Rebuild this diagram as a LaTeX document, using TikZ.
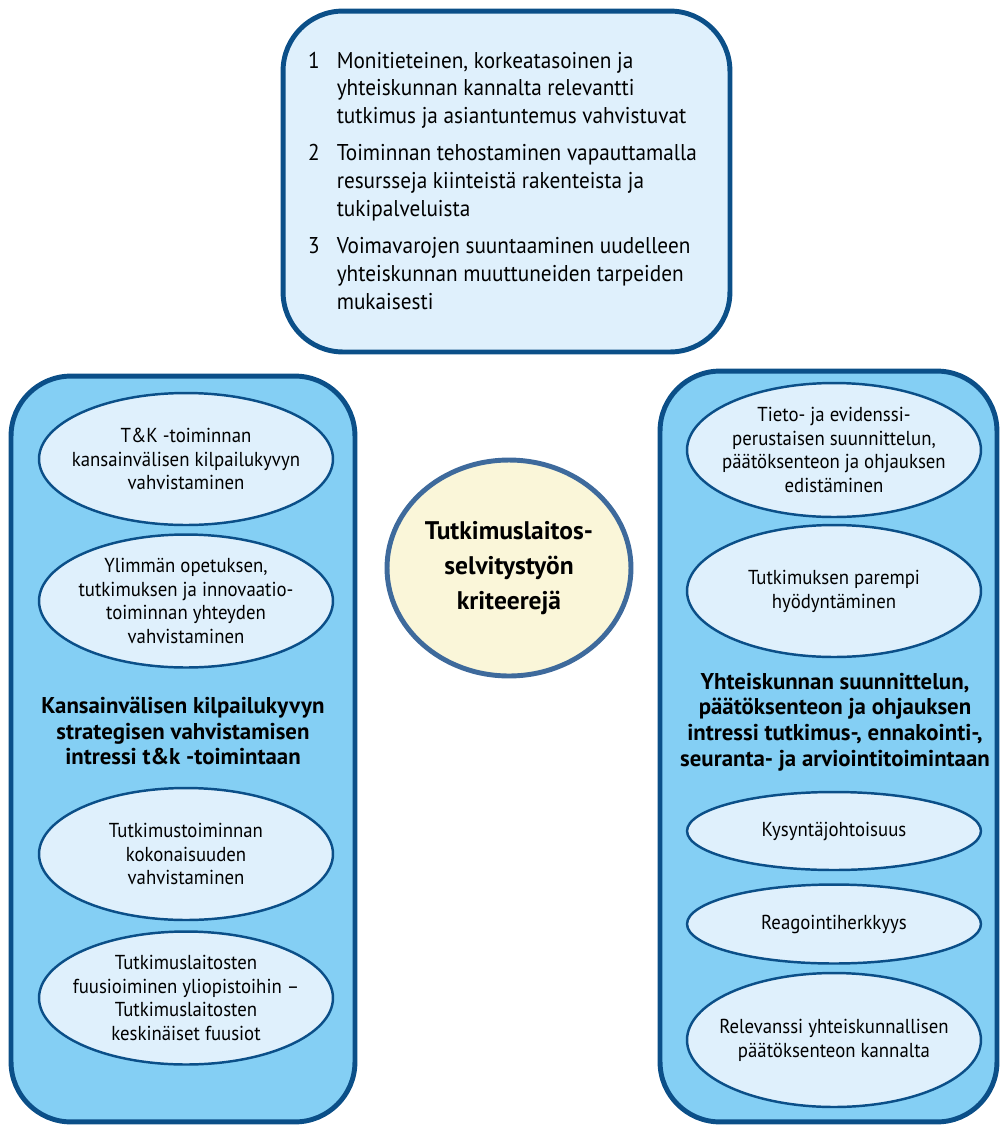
\documentclass[tikz,border=0pt]{standalone}
\usepackage{fontspec}
\setmainfont{PT Sans}
\newfontfamily\kapea[FakeStretch=0.93]{PT Sans}
\usetikzlibrary{shapes.geometric}
\definecolor{reuna}{HTML}{0B4F88}
\definecolor{vaalea}{HTML}{DFF0FC}
\definecolor{taivas}{HTML}{84CFF4}
\definecolor{kerma}{HTML}{FAF6D9}
\definecolor{keskireuna}{HTML}{3E6A9C}
\tikzset{
  laatikko/.style={rectangle, draw=reuna, line width=2.8pt, rounded corners=1.2cm},
  soikio/.style={ellipse, draw=reuna, line width=1.4pt, fill=vaalea,
    inner xsep=-2cm, inner ysep=-1.2cm,
    minimum width=5.88cm, align=center, font=\kapea\fontsize{11.5}{13.6}\selectfont},
  otsikko/.style={align=center, font=\bfseries\fontsize{13}{14.7}\selectfont}
}

\begin{document}
\begin{tikzpicture}[x=0.02cm, y=-0.02cm]
    \useasboundingbox (0,0) rectangle (1002,1127);

    % Laatikot
    \node[laatikko, fill=vaalea, minimum width=8.94cm, minimum height=6.82cm] (yla) at (506.5,181.5) {};
    \node[laatikko, fill=taivas, minimum width=6.88cm, minimum height=14.92cm] (vasen) at (183,749) {};
    \node[laatikko, fill=taivas, minimum width=6.74cm, minimum height=15.02cm] (oikea) at (828.5,746.5) {};

    \node[anchor=base west, font=\kapea\fontsize{13}{15.9}\selectfont] (lista) at (302,68) {%
      \begin{tabular}[t]{@{}r@{\hspace{0.34cm}}l@{}}
        1 & Monitieteinen, korkeatasoinen ja\\
          & yhteiskunnan kannalta relevantti\\
          & tutkimus ja asiantuntemus vahvistuvat\\[5pt]
        2 & Toiminnan tehostaminen vapauttamalla\\
          & resursseja kiinteistä rakenteista ja\\
          & tukipalveluista\\[5pt]
        3 & Voimavarojen suuntaaminen uudelleen\\
          & yhteiskunnan muuttuneiden tarpeiden\\
          & mukaisesti
      \end{tabular}};

    % Keskus
    \node[ellipse, draw=keskireuna, line width=2.8pt, fill=kerma, inner xsep=-2cm, inner ysep=-1.2cm,
      minimum width=4.88cm, minimum height=4.32cm, align=center,
      font=\bfseries\fontsize{14.5}{19.8}\selectfont]
      (keskus) at (509,568) {Tutkimuslaitos-\\selvitystyön\\kriteerejä};

    % Vasen puoli
    \node[soikio, minimum height=2.64cm] (v1) at (186,459) {T\&K -toiminnan\\kansainvälisen kilpailukyvyn\\vahvistaminen};
    \node[soikio, minimum height=2.66cm] (v2) at (186,601) {Ylimmän opetuksen,\\tutkimuksen ja innovaatio-\\toiminnan yhteyden\\vahvistaminen};
    \node[otsikko] (votsikko) at (183,731) {Kansainvälisen kilpailukyvyn\\strategisen vahvistamisen\\intressi t\&k -toimintaan};
    \node[soikio, minimum height=2.64cm] (v3) at (186,854) {Tutkimustoiminnan\\kokonaisuuden\\vahvistaminen};
    \node[soikio, minimum height=2.66cm] (v4) at (186,998) {Tutkimuslaitosten\\fuusioiminen yliopistoihin –\\Tutkimuslaitosten\\keskinäiset fuusiot};

    % Oikea puoli
    \node[soikio, minimum height=2.68cm] (o1) at (834,450) {Tieto- ja evidenssi-\\perustaisen suunnittelun,\\päätöksenteon ja ohjauksen\\edistäminen};
    \node[soikio, minimum height=2.64cm] (o2) at (834,591) {Tutkimuksen parempi\\hyödyntäminen};
    \node[otsikko] (ootsikko) at (835,722) {Yhteiskunnan suunnittelun,\\päätöksenteon ja ohjauksen\\intressi tutkimus-, ennakointi-,\\seuranta- ja arviointitoimintaan};
    \node[soikio, minimum height=1.56cm] (o3) at (834,831) {Kysyntäjohtoisuus};
    \node[soikio, minimum height=1.58cm] (o4) at (834,924) {Reagointiherkkyys};
    \node[soikio, minimum height=2.68cm] (o5) at (834,1040) {Relevanssi yhteiskunnallisen\\päätöksenteon kannalta};
\end{tikzpicture}
\end{document}
